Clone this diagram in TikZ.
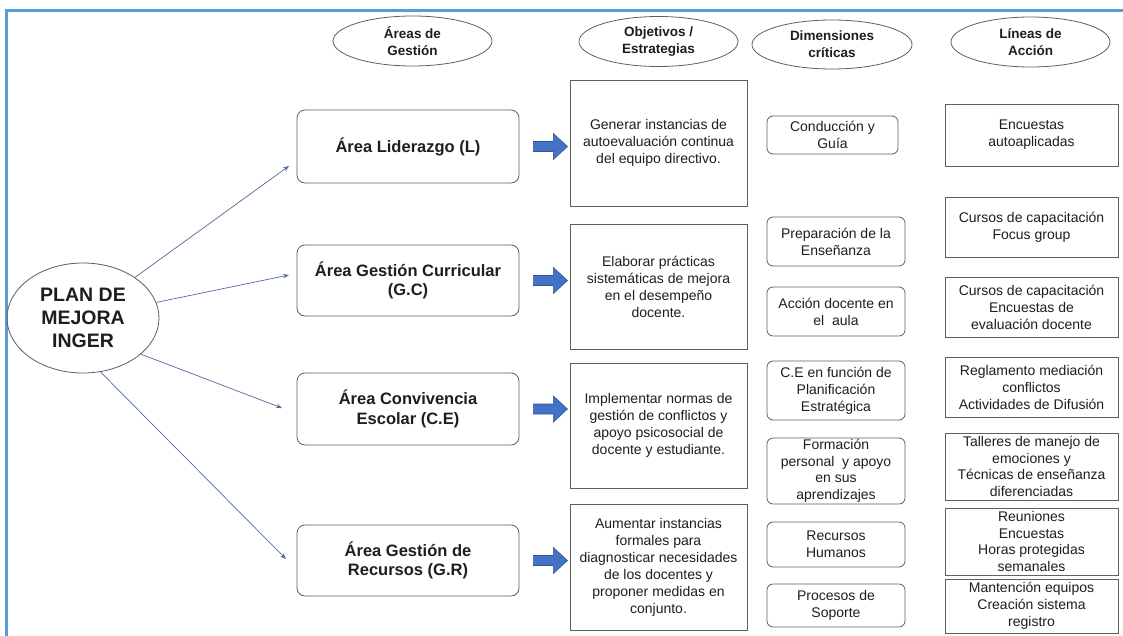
\documentclass[tikz,border=0pt]{standalone}
\usepackage{fontspec}
\setmainfont{Liberation Sans}
\usetikzlibrary{arrows.meta,shapes.geometric}
\definecolor{frameblue}{HTML}{5B9BD5}
\definecolor{boxline}{HTML}{5F5F5F}
\definecolor{txt}{HTML}{1E1E1E}
\definecolor{thinarr}{HTML}{4F6B9C}
\definecolor{blkfill}{HTML}{4472C4}
\definecolor{blkdraw}{HTML}{2F5597}
\newcommand\blkarrow[1]{\filldraw[fill=blkfill,draw=blkdraw,line width=0.6pt] ([xshift=14pt,yshift=5pt]#1.east) -- ++(20,0) -- ++(0,-8) -- ++(14,13) -- ++(-14,13) -- ++(0,-8) -- ++(-20,0) -- cycle;}
\begin{document}
\begin{tikzpicture}[x=1pt,y=-1pt,
  hdr/.style={ellipse,draw=boxline,line width=0.8pt,inner sep=0pt,align=center,text=txt,
    font=\fontsize{13.5}{17}\selectfont\bfseries,minimum width=159pt,minimum height=50pt},
  areabox/.style={draw=boxline,line width=0.8pt,rounded corners=8pt,inner sep=0pt,align=center,text=txt,
    font=\fontsize{16.5}{19.5}\selectfont\bfseries,minimum width=222pt},
  objbox/.style={draw=boxline,line width=0.8pt,inner sep=0pt,align=center,text=txt,
    font=\fontsize{14}{17}\selectfont,minimum width=177pt},
  dimbox/.style={draw=boxline,line width=0.8pt,rounded corners=6pt,inner sep=0pt,align=center,text=txt,
    font=\fontsize{14}{17}\selectfont,minimum width=138pt},
  linbox/.style={draw=boxline,line width=0.8pt,inner sep=0pt,align=center,text=txt,
    font=\fontsize{14}{17}\selectfont,minimum width=173pt},
  thin arrow/.style={draw=thinarr,line width=0.7pt,-{Stealth[length=6pt,width=4.5pt]}}
]
\useasboundingbox (0,0) rectangle (1123,635);
\fill[white] (0,0) rectangle (1123,635);
\draw[frameblue,line width=3pt] (6,636) -- (6,10) -- (1123,10);

% headers
\node[hdr] (h1) at (412.5,41) {Áreas de\\Gestión};
\node[hdr] (h2) at (658.5,41.5) {Objetivos /\\Estrategias};
\node[hdr,minimum width=160pt,minimum height=49pt] (h3) at (832,44.5) {Dimensiones\\críticas};
\node[hdr] (h4) at (1030.5,42) {Líneas de\\Acción};

% plan
\node[ellipse,draw=boxline,line width=0.8pt,inner sep=0pt,align=center,text=txt,
  font=\fontsize{19.5}{23}\selectfont\bfseries,minimum width=152pt,minimum height=110pt] (plan) at (83,318) {PLAN DE\\MEJORA\\INGER};

% areas
\node[areabox,minimum height=73pt] (aL) at (408,146.5) {Área Liderazgo (L)};
\node[areabox,minimum height=71pt] (aGC) at (408,280.5) {Área Gestión Curricular\\(G.C)};
\node[areabox,minimum height=72pt] (aCE) at (408,409) {Área Convivencia\\Escolar (C.E)};
\node[areabox,minimum height=71pt] (aGR) at (408,560.5) {Área Gestión de\\Recursos (G.R)};

% thin arrows
\coordinate (tL) at (289,166);
\coordinate (tGC) at (289,275);
\coordinate (tCE) at (282,408);
\coordinate (tGR) at (286,559);
\draw[thin arrow] (plan.38) -- (tL);
\draw[thin arrow] (plan.12) -- (tGC);
\draw[thin arrow] (plan.-32) -- (tCE);
\draw[thin arrow] (plan.-72) -- (tGR);

% block arrows
\blkarrow{aL}
\blkarrow{aGC}
\blkarrow{aCE}
\blkarrow{aGR}

% objectives
\node[objbox,minimum height=126pt] (o1) at (658.5,143) {Generar instancias de\\autoevaluación continua\\del equipo directivo.};
\node[objbox,minimum height=125pt] (o2) at (658.5,286.5) {Elaborar prácticas\\sistemáticas de mejora\\en el desempeño\\docente.};
\node[objbox,minimum height=125pt] (o3) at (658.5,425.5) {Implementar normas de\\gestión de conflictos y\\apoyo psicosocial de\\docente y estudiante.};
\node[objbox,minimum height=126pt] (o4) at (658.5,567) {Aumentar instancias\\formales para\\diagnosticar necesidades\\de los docentes y\\proponer medidas en\\conjunto.};

% dimensions
\node[dimbox,minimum width=131pt,minimum height=38pt] (d1) at (832.5,135) {Conducción y\\Guía};
\node[dimbox,minimum height=49pt] (d2) at (836,241.5) {Preparación de la\\Enseñanza};
\node[dimbox,minimum height=49pt] (d3) at (836,311.5) {Acción docente en\\el \ aula};
\node[dimbox,minimum height=59pt] (d4) at (836,390.5) {C.E en función de\\Planificación\\Estratégica};
\node[dimbox,minimum height=66pt,font=\fontsize{14}{16.5}\selectfont] (d5) at (836,471) {Formación\\personal \ y apoyo\\en sus\\aprendizajes};
\node[dimbox,minimum height=45pt] (d6) at (836,544.5) {Recursos\\Humanos};
\node[dimbox,minimum height=43pt] (d7) at (836,605.5) {Procesos de\\Soporte};

% lines of action
\node[linbox,minimum height=62pt] (l1) at (1031.5,135) {Encuestas\\autoaplicadas};
\node[linbox,minimum height=60pt] (l2) at (1031.5,227) {Cursos de capacitación\\Focus group};
\node[linbox,minimum height=60pt] (l3) at (1031.5,307) {Cursos de capacitación\\Encuestas de\\evaluación docente};
\node[linbox,minimum height=60pt] (l4) at (1031.5,387) {Reglamento mediación\\conflictos\\Actividades de Difusión};
\node[linbox,minimum height=67pt,font=\fontsize{14}{16.5}\selectfont] (l5) at (1031.5,466.5) {Talleres de manejo de\\emociones y\\Técnicas de enseñanza\\diferenciadas};
\node[linbox,minimum height=67pt,font=\fontsize{14}{16.5}\selectfont] (l6) at (1031.5,541.5) {Reuniones\\Encuestas\\Horas protegidas\\semanales};
\node[linbox,minimum height=54pt] (l7) at (1031.5,606) {Mantención equipos\\Creación sistema\\registro};
\end{tikzpicture}
\end{document}
